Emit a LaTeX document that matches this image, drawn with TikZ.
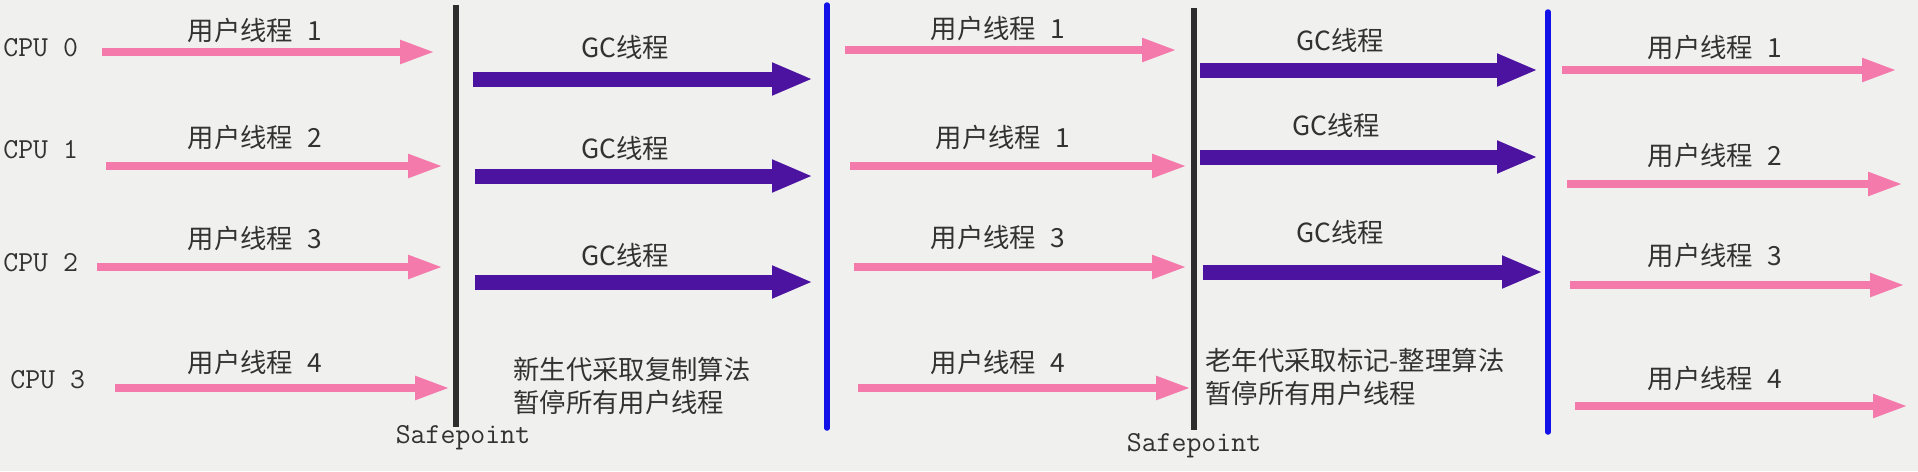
\documentclass[tikz,border=0pt]{standalone}
\usepackage{fontspec}
\newfontfamily\cjk{Noto Sans CJK SC}
\usetikzlibrary{arrows.meta}

\definecolor{bgcol}{RGB}{240,240,238}
\definecolor{userpink}{RGB}{244,122,172}
\definecolor{gcpurple}{RGB}{76,18,160}
\definecolor{safeblack}{RGB}{45,45,45}
\definecolor{endblue}{RGB}{18,18,232}
\definecolor{txtgray}{RGB}{50,50,50}

\tikzset{
  user/.style={userpink, line width=0.16cm, -{Triangle[length=0.70cm,width=0.44cm]}},
  gcarrow/.style={gcpurple, line width=0.30cm, -{Triangle[length=0.82cm,width=0.60cm]}},
  lab/.style={text=txtgray, font=\cjk\fontsize{15}{18}\selectfont, inner sep=0pt},
  note/.style={lab, anchor=west, align=left, font=\cjk\fontsize{15}{18.6}\selectfont},
  mono/.style={text=txtgray, font=\ttfamily\fontsize{16.5}{19}\selectfont, inner sep=0pt},
  safeline/.style={safeblack, line width=0.11cm},
  endline/.style={endblue, line width=0.11cm, line cap=round}
}

\begin{document}
\begin{tikzpicture}[x=0.02cm, y=-0.02cm]
  % Background
  \fill[bgcol] (0,0) rectangle (1918,471);
  \useasboundingbox (0,0) rectangle (1918,471);

  % CPUs
  \node[mono, anchor=west] (cpu0) at (3,48) {CPU 0};
  \node[mono, anchor=west] (cpu1) at (3,150) {CPU 1};
  \node[mono, anchor=west] (cpu2) at (3,263) {CPU 2};
  \node[mono, anchor=west] (cpu3) at (10,380) {CPU 3};

  % Safepoints and end of pause
  \coordinate (sp1top) at (456,5);    \coordinate (sp1bot) at (456,427);
  \coordinate (en1top) at (827,5);    \coordinate (en1bot) at (827,428);
  \coordinate (sp2top) at (1194,8);   \coordinate (sp2bot) at (1194,430);
  \coordinate (en2top) at (1548,12);  \coordinate (en2bot) at (1548,432);
  \draw[safeline] (sp1top) -- (sp1bot);
  \draw[endline] (en1top) -- (en1bot);
  \draw[safeline] (sp2top) -- (sp2bot);
  \draw[endline] (en2top) -- (en2bot);
  \node[mono] (sp1) at (463,438) {Safepoint};
  \node[mono] (sp2) at (1194,446) {Safepoint};

  % User threads before first safepoint
  \coordinate (a1s) at (102,52);   \coordinate (a1e) at (435,52);
  \coordinate (a2s) at (106,166);  \coordinate (a2e) at (443,166);
  \coordinate (a3s) at (97,267);   \coordinate (a3e) at (443,267);
  \coordinate (a4s) at (115,388);  \coordinate (a4e) at (450,388);
  \draw[user] (a1s) -- (a1e);
  \draw[user] (a2s) -- (a2e);
  \draw[user] (a3s) -- (a3e);
  \draw[user] (a4s) -- (a4e);
  \node[lab] (la1) at (255,30) {用户线程\hspace{0.55em}1};
  \node[lab] (la2) at (255,137) {用户线程\hspace{0.55em}2};
  \node[lab] (la3) at (255,238) {用户线程\hspace{0.55em}3};
  \node[lab] (la4) at (255,362) {用户线程\hspace{0.55em}4};

  % GC threads, young generation
  \coordinate (g1s) at (473,79);   \coordinate (g1e) at (813,79);
  \coordinate (g2s) at (475,176);  \coordinate (g2e) at (813,176);
  \coordinate (g3s) at (475,282);  \coordinate (g3e) at (813,282);
  \draw[gcarrow] (g1s) -- (g1e);
  \draw[gcarrow] (g2s) -- (g2e);
  \draw[gcarrow] (g3s) -- (g3e);
  \node[lab] (lg1) at (625,47) {GC线程};
  \node[lab] (lg2) at (625,148) {GC线程};
  \node[lab] (lg3) at (625,255) {GC线程};
  \node[note] (young) at (513,386) {新生代采取复制算法\\暂停所有用户线程};

  % User threads between the pauses
  \coordinate (m1s) at (845,50);   \coordinate (m1e) at (1177,50);
  \coordinate (m2s) at (850,166);  \coordinate (m2e) at (1187,166);
  \coordinate (m3s) at (854,267);  \coordinate (m3e) at (1187,267);
  \coordinate (m4s) at (858,388);  \coordinate (m4e) at (1191,388);
  \draw[user] (m1s) -- (m1e);
  \draw[user] (m2s) -- (m2e);
  \draw[user] (m3s) -- (m3e);
  \draw[user] (m4s) -- (m4e);
  \node[lab] (lm1) at (998,28) {用户线程\hspace{0.55em}1};
  \node[lab] (lm2) at (1003,137) {用户线程\hspace{0.55em}1};
  \node[lab] (lm3) at (998,237) {用户线程\hspace{0.55em}3};
  \node[lab] (lm4) at (998,362) {用户线程\hspace{0.55em}4};

  % GC threads, old generation
  \coordinate (h1s) at (1200,70);   \coordinate (h1e) at (1538,70);
  \coordinate (h2s) at (1200,157);  \coordinate (h2e) at (1538,157);
  \coordinate (h3s) at (1203,272);  \coordinate (h3e) at (1543,272);
  \draw[gcarrow] (h1s) -- (h1e);
  \draw[gcarrow] (h2s) -- (h2e);
  \draw[gcarrow] (h3s) -- (h3e);
  \node[lab] (lh1) at (1340,40) {GC线程};
  \node[lab] (lh2) at (1336,125) {GC线程};
  \node[lab] (lh3) at (1340,232) {GC线程};
  \node[note] (old) at (1205,377) {老年代采取标记-整理算法\\暂停所有用户线程};

  % User threads after the second pause
  \coordinate (r1s) at (1562,70);   \coordinate (r1e) at (1897,70);
  \coordinate (r2s) at (1567,184);  \coordinate (r2e) at (1903,184);
  \coordinate (r3s) at (1570,285);  \coordinate (r3e) at (1905,285);
  \coordinate (r4s) at (1575,406);  \coordinate (r4e) at (1908,406);
  \draw[user] (r1s) -- (r1e);
  \draw[user] (r2s) -- (r2e);
  \draw[user] (r3s) -- (r3e);
  \draw[user] (r4s) -- (r4e);
  \node[lab] (lr1) at (1715,47) {用户线程\hspace{0.55em}1};
  \node[lab] (lr2) at (1715,155) {用户线程\hspace{0.55em}2};
  \node[lab] (lr3) at (1715,255) {用户线程\hspace{0.55em}3};
  \node[lab] (lr4) at (1715,378) {用户线程\hspace{0.55em}4};
\end{tikzpicture}
\end{document}
